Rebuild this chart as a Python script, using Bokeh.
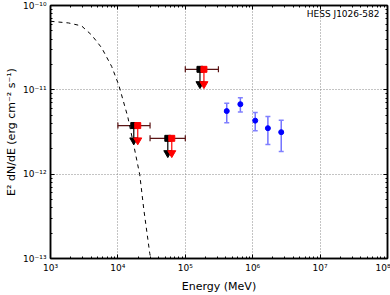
from bokeh.plotting import figure
from bokeh.models import (LogAxis, FixedTicker, CustomJSTickFormatter, Whisker, TeeHead,
                          ColumnDataSource, Label, Range1d)
from bokeh.embed import file_html
from bokeh.resources import INLINE

# ---- data ----
model_energy = [1.0e3, 1.85e3, 2.89e3, 4.07e3, 5.74e3, 8.09e3, 1.03e4, 1.40e4, 1.72e4,
                2.11e4, 2.42e4, 2.97e4, 3.08e4]
model_flux = [6.50e-11, 6.21e-11, 5.73e-11, 4.47e-11, 3.15e-11, 1.89e-11, 1.14e-11,
              4.80e-12, 2.20e-12, 9.84e-13, 3.85e-13, 1.15e-13, 1.0e-13]

ul_energy = [1.72e4, 5.5e4, 1.65e5]
ul_energy_red = [1.97e4, 6.3e4, 1.89e5]
ul_flux = [3.77e-12, 2.66e-12, 1.75e-11]
ul_elow = [1.0e4, 3.0e4, 1.0e5]
ul_ehigh = [3.0e4, 1.0e5, 3.1e5]

pt_energy = [4.12e5, 6.56e5, 1.09e6, 1.68e6, 2.65e6]
pt_flux = [5.60e-12, 6.76e-12, 4.31e-12, 3.51e-12, 3.15e-12]
pt_low = [4.06e-12, 5.45e-12, 3.27e-12, 2.25e-12, 1.86e-12]
pt_high = [6.94e-12, 8.07e-12, 5.39e-12, 4.84e-12, 4.35e-12]

x_ticks = [1e3, 1e4, 1e5, 1e6, 1e7, 1e8]
y_ticks = [1e-13, 1e-12, 1e-11, 1e-10]
source_name = "HESS J1026-582"

FONT = "DejaVu Sans"

p = figure(width=390, height=295, x_axis_type="log", y_axis_type="log",
           x_range=Range1d(1e3, 1e8), y_range=Range1d(1e-13, 1e-10),
           output_backend="svg", toolbar_location=None,
           min_border_left=50, min_border_right=3, min_border_top=5, min_border_bottom=33)
p.background_fill_color = "white"
p.border_fill_color = "white"
p.outline_line_color = "black"
p.outline_line_width = 1.5

def minor(ticks):
    out = []
    for t in ticks[:-1]:
        out += [t * k for k in range(2, 10)]
    return out

fmt_code = """
const sup = {'-':'\u207b','0':'\u2070','1':'\u00b9','2':'\u00b2','3':'\u00b3','4':'\u2074','5':'\u2075','6':'\u2076','7':'\u2077','8':'\u2078','9':'\u2079'};
const e = Math.round(Math.log10(tick));
return '10' + String(e).split('').map(c => sup[c]).join('');
"""

xt = FixedTicker(ticks=x_ticks, minor_ticks=minor(x_ticks))
yt = FixedTicker(ticks=y_ticks, minor_ticks=minor(y_ticks))

def style(ax, labels=True):
    ax.major_tick_in = 4
    ax.major_tick_out = 0
    ax.minor_tick_in = 2
    ax.minor_tick_out = 0
    ax.axis_line_color = "black"
    ax.axis_line_width = 1.5
    ax.major_tick_line_color = "black"
    ax.minor_tick_line_color = "black"
    ax.major_label_text_font = FONT
    ax.major_label_text_font_size = "9px" if labels else "1px"
    ax.major_label_text_color = "black"
    ax.major_label_text_alpha = 1.0 if labels else 0.0
    ax.major_label_standoff = 4
    ax.axis_label_text_font = FONT
    ax.axis_label_text_font_size = "11px"
    ax.axis_label_text_font_style = "normal"
    ax.axis_label_text_color = "black"
    ax.axis_label_standoff = 4

p.xaxis.ticker = xt
p.yaxis.ticker = yt
p.xaxis.formatter = CustomJSTickFormatter(code=fmt_code)
p.yaxis.formatter = CustomJSTickFormatter(code=fmt_code)
p.xaxis.axis_label = "Energy (MeV)"
p.yaxis.axis_label = "E\u00b2 dN/dE (erg cm\u207b\u00b2 s\u207b\u00b9)"
for ax in p.xaxis + p.yaxis:
    style(ax)
p.yaxis.axis_label_standoff = 2

top = LogAxis(ticker=xt)
right = LogAxis(ticker=yt)
style(top, labels=False)
style(right, labels=False)
top.major_label_standoff = 0
right.major_label_standoff = 0
p.add_layout(top, "above")
p.add_layout(right, "right")

for g in (p.xgrid, p.ygrid):
    g.grid_line_color = "#888888"
    g.grid_line_dash = "1 2"
    g.grid_line_width = 1
p.xgrid.ticker = xt
p.ygrid.ticker = yt

# model curve
p.line(model_energy, model_flux, line_color="black", line_dash="4 4", line_width=1)

# upper limits
ARROW = 0.67
src = ColumnDataSource(dict(e=ul_energy, er=ul_energy_red, f=ul_flux, lo=ul_elow, hi=ul_ehigh,
                            tip=[v * ARROW for v in ul_flux]))
p.add_layout(Whisker(source=src, base="f", lower="lo", upper="hi", dimension="width",
                     line_color="#5a1414", line_width=1.2,
                     upper_head=TeeHead(size=6, line_color="#5a1414", line_width=1.2),
                     lower_head=TeeHead(size=6, line_color="#5a1414", line_width=1.2)))
p.segment(x0="e", y0="f", x1="e", y1="tip", source=src, line_color="black", line_width=1.2)
p.segment(x0="er", y0="f", x1="er", y1="tip", source=src, line_color="red", line_width=1.2)
p.scatter(x="e", y="tip", source=src, marker="inverted_triangle", size=8,
          fill_color="black", line_color="black")
p.scatter(x="er", y="tip", source=src, marker="inverted_triangle", size=8,
          fill_color="red", line_color="red")
p.scatter(x="e", y="f", source=src, marker="square", size=6, fill_color="black", line_color="black")
p.scatter(x="er", y="f", source=src, marker="square", size=6, fill_color="red", line_color="red")

# data points
psrc = ColumnDataSource(dict(e=pt_energy, f=pt_flux, lo=pt_low, hi=pt_high))
p.add_layout(Whisker(source=psrc, base="e", lower="lo", upper="hi", dimension="height",
                     line_color="#5050ff", line_width=1.5, line_alpha=0.8,
                     upper_head=TeeHead(size=5, line_color="#8080ff", line_width=1.5),
                     lower_head=TeeHead(size=5, line_color="#8080ff", line_width=1.5)))
p.scatter(x="e", y="f", source=psrc, marker="circle", size=5, fill_color="blue", line_color="blue")

p.add_layout(Label(x=7.6e7, y=10**-10.105, text=source_name, text_align="right",
                   text_baseline="middle", text_font=FONT, text_font_size="9px",
                   text_color="black"))

open("out.html", "w").write(file_html(p, INLINE))
